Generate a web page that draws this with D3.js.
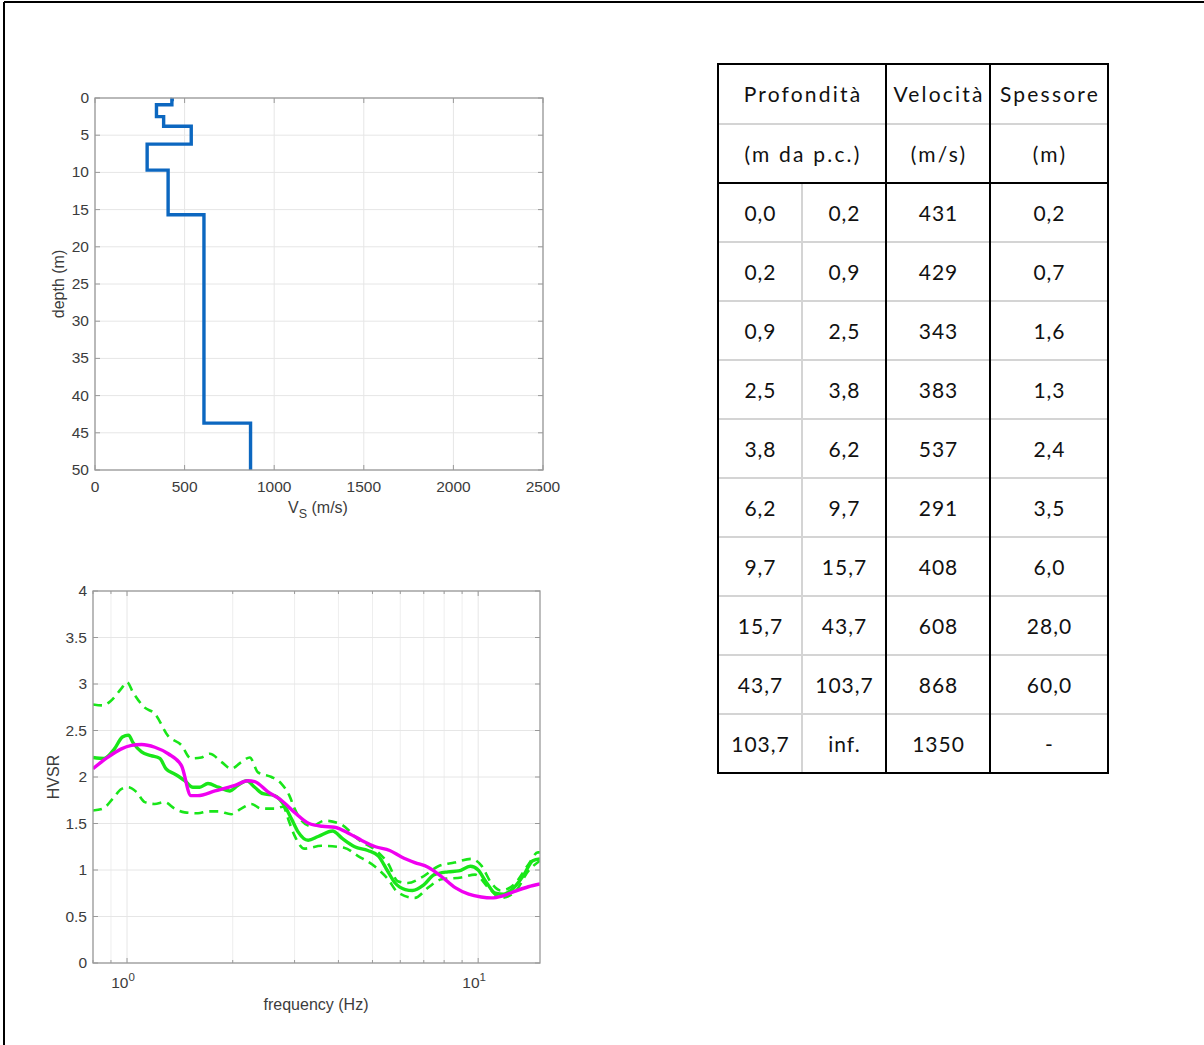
<!DOCTYPE html>
<html>
<head>
<meta charset="utf-8">
<script src="https://cdn.jsdelivr.net/npm/d3@7"></script>
<style>
  html, body { margin: 0; padding: 0; background: #fff; }
  svg { display: block; }
  .tick-label { font-family: "Liberation Sans", Arial, sans-serif; font-size: 15.5px; fill: #3c3c3c; }
  .axis-title { font-family: "Liberation Sans", Arial, sans-serif; font-size: 16px; fill: #3c3c3c; }
  .tbl { font-family: Lato, "Open Sans", sans-serif; font-size: 21px; fill: #111; letter-spacing: 1px; }
  .tbl-head { letter-spacing: 2.2px; }
</style>
</head>
<body>
<svg id="fig" width="1204" height="1045"></svg>
<script>
// ---- Layered Vs model (depth in m, velocity in m/s) ----
const layerTop    = [0.0, 0.2, 0.9, 2.5, 3.8, 6.2, 9.7, 15.7, 43.7, 103.7];
const layerBottom = [0.2, 0.9, 2.5, 3.8, 6.2, 9.7, 15.7, 43.7, 103.7, Infinity];
const layerVs     = [431, 429, 343, 383, 537, 291, 408, 608, 868, 1350];

// ---- Profile axes ----
const vsTicks    = [0, 500, 1000, 1500, 2000, 2500];
const depthTicks = [0, 5, 10, 15, 20, 25, 30, 35, 40, 45, 50];

// ---- HVSR curves: [frequency Hz, H/V] ----
const hvsrMean = [[0.8,2.21],[0.86,2.20],[0.92,2.30],[0.97,2.43],[1.01,2.45],[1.04,2.37],[1.10,2.27],[1.17,2.23],[1.24,2.20],[1.29,2.09],[1.37,2.03],[1.46,1.96],[1.54,1.89],[1.61,1.89],[1.70,1.93],[1.82,1.89],[1.96,1.85],[2.07,1.91],[2.19,1.96],[2.31,1.89],[2.44,1.82],[2.63,1.80],[2.81,1.69],[2.94,1.55],[3.07,1.41],[3.28,1.32],[3.5,1.36],[3.85,1.42],[4.1,1.34],[4.45,1.25],[4.85,1.21],[5.2,1.15],[5.5,1.00],[5.8,0.86],[6.2,0.79],[6.5,0.78],[7.0,0.84],[7.5,0.95],[8.2,0.98],[8.8,0.99],[9.5,1.04],[10.0,1.00],[10.5,0.88],[11.2,0.75],[11.8,0.74],[12.4,0.78],[13.5,0.95],[14.3,1.10],[15.0,1.12]];
const hvsrUpper = [[0.8,2.78],[0.854,2.77],[0.90,2.82],[0.963,2.95],[1.0,3.02],[1.04,2.91],[1.12,2.75],[1.2,2.68],[1.31,2.44],[1.43,2.34],[1.52,2.20],[1.628,2.21],[1.72,2.25],[1.86,2.16],[1.98,2.09],[2.115,2.16],[2.237,2.21],[2.36,2.05],[2.58,2.00],[2.75,1.93],[2.9,1.80],[3.0,1.66],[3.14,1.53],[3.35,1.47],[3.65,1.53],[4.07,1.49],[4.55,1.33],[5.19,1.19],[5.54,1.07],[5.9,0.88],[6.3,0.86],[6.9,0.92],[7.7,1.04],[8.56,1.08],[9.56,1.12],[10.2,1.05],[10.9,0.86],[11.6,0.78],[12.7,0.85],[13.9,1.06],[14.8,1.19],[15,1.19]];
const hvsrLower = [[0.8,1.64],[0.854,1.66],[0.912,1.77],[0.963,1.87],[1.007,1.89],[1.063,1.84],[1.123,1.73],[1.199,1.71],[1.28,1.73],[1.367,1.66],[1.459,1.62],[1.593,1.61],[1.702,1.63],[1.817,1.63],[1.98,1.60],[2.115,1.66],[2.26,1.71],[2.41,1.66],[2.635,1.66],[2.78,1.68],[2.9,1.51],[3.0,1.37],[3.2,1.23],[3.58,1.26],[4.15,1.24],[4.55,1.15],[5.07,1.04],[5.54,0.90],[5.9,0.76],[6.6,0.70],[7.2,0.81],[7.86,0.90],[8.95,0.92],[9.8,0.95],[10.7,0.81],[11.6,0.70],[12.7,0.76],[13.9,0.99],[15,1.10]];
const hvsrModel = [[0.8,2.09],[0.88,2.21],[0.96,2.30],[1.03,2.34],[1.10,2.35],[1.20,2.32],[1.31,2.25],[1.43,2.12],[1.52,1.80],[1.59,1.80],[1.78,1.85],[2.03,1.91],[2.21,1.96],[2.31,1.95],[2.52,1.84],[2.75,1.75],[3.0,1.62],[3.3,1.50],[3.6,1.47],[3.9,1.46],[4.3,1.39],[4.65,1.32],[5.1,1.25],[5.6,1.21],[6.05,1.14],[6.6,1.08],[7.2,1.03],[7.86,0.93],[8.6,0.81],[9.4,0.74],[10.2,0.71],[10.9,0.70],[11.7,0.72],[12.7,0.77],[13.9,0.82],[15,0.85]];

// ---- HVSR axes ----
const freqDomain   = [0.8, 15];
const freqMajor    = [1, 10];
const freqMinor    = [0.8, 0.9, 2, 3, 4, 5, 6, 7, 8, 9];
const hvsrTicks    = [0, 0.5, 1, 1.5, 2, 2.5, 3, 3.5, 4];

// ---- Table headings ----
const headRow1 = ["Profondità", "Velocità", "Spessore"];
const headRow2 = ["(m da p.c.)", "(m/s)", "(m)"];

const svg = d3.select("#fig");
const AXIS = "#9a9a9a", GRID = "#e6e6e6";

// page frame (top and left rules)
svg.append("line").attr("x1", 4).attr("x2", 1204).attr("y1", 2).attr("y2", 2).attr("stroke", "#000").attr("stroke-width", 2);
svg.append("line").attr("x1", 4).attr("x2", 4).attr("y1", 2).attr("y2", 1045).attr("stroke", "#000").attr("stroke-width", 2);

function frame(g, x0, x1, y0, y1) {
  g.append("rect").attr("x", x0).attr("y", y0).attr("width", x1 - x0).attr("height", y1 - y0)
    .attr("fill", "none").attr("stroke", AXIS).attr("stroke-width", 1.3);
}

// ================= Vs profile =================
{
  const x = d3.scaleLinear().domain([0, 2500]).range([95, 543]);
  const y = d3.scaleLinear().domain([0, 50]).range([98, 470]);
  const g = svg.append("g");
  const [x0, x1] = x.range(), [y0, y1] = y.range();

  g.append("g").selectAll("line").data(vsTicks).join("line")
    .attr("x1", d => x(d)).attr("x2", d => x(d)).attr("y1", y0).attr("y2", y1)
    .attr("stroke", GRID).attr("stroke-width", 1);
  g.append("g").selectAll("line").data(depthTicks).join("line")
    .attr("x1", x0).attr("x2", x1).attr("y1", d => y(d)).attr("y2", d => y(d))
    .attr("stroke", GRID).attr("stroke-width", 1);

  // inward ticks on all four sides
  const tl = 5;
  vsTicks.forEach(d => {
    g.append("line").attr("x1", x(d)).attr("x2", x(d)).attr("y1", y1).attr("y2", y1 - tl).attr("stroke", AXIS);
    g.append("line").attr("x1", x(d)).attr("x2", x(d)).attr("y1", y0).attr("y2", y0 + tl).attr("stroke", AXIS);
  });
  depthTicks.forEach(d => {
    g.append("line").attr("x1", x0).attr("x2", x0 + tl).attr("y1", y(d)).attr("y2", y(d)).attr("stroke", AXIS);
    g.append("line").attr("x1", x1).attr("x2", x1 - tl).attr("y1", y(d)).attr("y2", y(d)).attr("stroke", AXIS);
  });

  g.append("clipPath").attr("id", "clipVs").append("rect")
    .attr("x", x0).attr("y", y0 - 2).attr("width", x1 - x0).attr("height", y1 - y0 + 2);

  const pts = [];
  layerVs.forEach((v, i) => {
    pts.push([v, layerTop[i]]);
    pts.push([v, Math.min(layerBottom[i], 200)]);
  });
  g.append("path").datum(pts)
    .attr("clip-path", "url(#clipVs)")
    .attr("d", d3.line().x(d => x(d[0])).y(d => y(d[1])))
    .attr("fill", "none").attr("stroke", "#0c67c0").attr("stroke-width", 3.4)
    .attr("stroke-linejoin", "miter");

  frame(g, x0, x1, y0, y1);

  g.append("g").selectAll("text").data(vsTicks).join("text")
    .attr("class", "tick-label").attr("x", d => x(d)).attr("y", y1 + 22)
    .attr("text-anchor", "middle").text(d => d);
  g.append("g").selectAll("text").data(depthTicks).join("text")
    .attr("class", "tick-label").attr("x", x0 - 6).attr("y", d => y(d) + 5)
    .attr("text-anchor", "end").text(d => d);

  const xt = g.append("text").attr("class", "axis-title").attr("x", 318).attr("y", 513).attr("text-anchor", "middle");
  xt.append("tspan").text("V");
  xt.append("tspan").attr("dy", 5).attr("font-size", 12.5).text("S");
  xt.append("tspan").attr("dy", -5).text(" (m/s)");
  g.append("text").attr("class", "axis-title").attr("transform", "translate(64,284) rotate(-90)")
    .attr("text-anchor", "middle").text("depth (m)");
}

// ================= HVSR =================
{
  const x = d3.scaleLog().domain(freqDomain).range([93, 540]);
  const y = d3.scaleLinear().domain([0, 4]).range([963, 591]);
  const g = svg.append("g");
  const [x0, x1] = x.range(), [y1, y0] = y.range();

  g.append("g").selectAll("line").data(freqMinor.concat(freqMajor)).join("line")
    .attr("x1", d => x(d)).attr("x2", d => x(d)).attr("y1", y0).attr("y2", y1)
    .attr("stroke", d => freqMajor.includes(d) ? GRID : "#eeeeee").attr("stroke-width", 1);
  g.append("g").selectAll("line").data(hvsrTicks).join("line")
    .attr("x1", x0).attr("x2", x1).attr("y1", d => y(d)).attr("y2", d => y(d))
    .attr("stroke", GRID).attr("stroke-width", 1);

  const tl = 5;
  freqMajor.forEach(d => {
    g.append("line").attr("x1", x(d)).attr("x2", x(d)).attr("y1", y1).attr("y2", y1 - tl).attr("stroke", AXIS);
    g.append("line").attr("x1", x(d)).attr("x2", x(d)).attr("y1", y0).attr("y2", y0 + tl).attr("stroke", AXIS);
  });
  freqMinor.forEach(d => {
    g.append("line").attr("x1", x(d)).attr("x2", x(d)).attr("y1", y1).attr("y2", y1 - 3).attr("stroke", AXIS);
    g.append("line").attr("x1", x(d)).attr("x2", x(d)).attr("y1", y0).attr("y2", y0 + 3).attr("stroke", AXIS);
  });
  hvsrTicks.forEach(d => {
    g.append("line").attr("x1", x0).attr("x2", x0 + tl).attr("y1", y(d)).attr("y2", y(d)).attr("stroke", AXIS);
    g.append("line").attr("x1", x1).attr("x2", x1 - tl).attr("y1", y(d)).attr("y2", y(d)).attr("stroke", AXIS);
  });

  g.append("clipPath").attr("id", "clipHv").append("rect")
    .attr("x", x0).attr("y", y0).attr("width", x1 - x0).attr("height", y1 - y0);

  const line = d3.line().x(d => x(d[0])).y(d => y(d[1])).curve(d3.curveMonotoneX);
  const GREEN = "#19e619", MAGENTA = "#f000f0";
  const plot = g.append("g").attr("clip-path", "url(#clipHv)");
  [hvsrUpper, hvsrLower].forEach(s => {
    plot.append("path").datum(s).attr("d", line)
      .attr("fill", "none").attr("stroke", GREEN).attr("stroke-width", 2.6)
      .attr("stroke-dasharray", "9,6");
  });
  plot.append("path").datum(hvsrMean).attr("d", line)
    .attr("fill", "none").attr("stroke", GREEN).attr("stroke-width", 3.4);
  plot.append("path").datum(hvsrModel).attr("d", line)
    .attr("fill", "none").attr("stroke", MAGENTA).attr("stroke-width", 3.4);

  frame(g, x0, x1, y0, y1);

  g.append("g").selectAll("text").data(hvsrTicks).join("text")
    .attr("class", "tick-label").attr("x", x0 - 6).attr("y", d => y(d) + 5)
    .attr("text-anchor", "end").text(d => d);
  freqMajor.forEach(d => {
    const t = g.append("text").attr("class", "tick-label").attr("x", x(d) - 4).attr("y", y1 + 25)
      .attr("text-anchor", "middle");
    t.append("tspan").text("10");
    t.append("tspan").attr("dy", -7).attr("font-size", 11.5).text(Math.round(Math.log10(d)));
  });
  g.append("text").attr("class", "axis-title").attr("x", 316).attr("y", 1010)
    .attr("text-anchor", "middle").text("frequency (Hz)");
  g.append("text").attr("class", "axis-title").attr("transform", "translate(59,777) rotate(-90)")
    .attr("text-anchor", "middle").text("HVSR");
}

// ================= Layer table =================
{
  const colX = [718, 802, 886, 990, 1108];
  const rowY = [64, 124, 183];
  layerVs.forEach((_, i) => rowY.push(183 + (i + 1) * 59));
  const g = svg.append("g");
  const fmt = v => v.toFixed(1).replace(".", ",");

  const rows = layerVs.map((v, i) => [
    fmt(layerTop[i]),
    isFinite(layerBottom[i]) ? fmt(layerBottom[i]) : "inf.",
    String(v),
    isFinite(layerBottom[i]) ? fmt(layerBottom[i] - layerTop[i]) : "-"
  ]);

  const LIGHT = "#d4d4d4";
  // light inner rules
  rowY.slice(1).forEach((ry, k) => {
    if (ry === 183 || k === rowY.length - 2) return;
    g.append("line").attr("x1", colX[0]).attr("x2", colX[4]).attr("y1", ry).attr("y2", ry)
      .attr("stroke", LIGHT).attr("stroke-width", 2);
  });
  g.append("line").attr("x1", colX[1]).attr("x2", colX[1]).attr("y1", 183).attr("y2", rowY[rowY.length - 1])
    .attr("stroke", LIGHT).attr("stroke-width", 2);

  // dark rules
  const last = rowY[rowY.length - 1];
  [colX[2], colX[3]].forEach(cx => g.append("line").attr("x1", cx).attr("x2", cx)
    .attr("y1", rowY[0]).attr("y2", last).attr("stroke", "#000").attr("stroke-width", 2));
  g.append("line").attr("x1", colX[0]).attr("x2", colX[4]).attr("y1", 183).attr("y2", 183)
    .attr("stroke", "#000").attr("stroke-width", 2);
  g.append("rect").attr("x", colX[0]).attr("y", rowY[0]).attr("width", colX[4] - colX[0])
    .attr("height", last - rowY[0]).attr("fill", "none").attr("stroke", "#000").attr("stroke-width", 2);

  const headCx = [(colX[0] + colX[2]) / 2, (colX[2] + colX[3]) / 2, (colX[3] + colX[4]) / 2];
  [headRow1, headRow2].forEach((row, r) => {
    const cy = (rowY[r] + rowY[r + 1]) / 2;
    row.forEach((t, c) => g.append("text").attr("class", "tbl tbl-head").attr("x", headCx[c] + 1).attr("y", cy + 8)
      .attr("text-anchor", "middle").text(t));
  });
  const cellCx = [0, 1, 2, 3].map(c => (colX[c] + colX[c + 1]) / 2);
  rows.forEach((row, r) => {
    const cy = (rowY[r + 2] + rowY[r + 3]) / 2;
    row.forEach((t, c) => g.append("text").attr("class", "tbl").attr("x", cellCx[c] + 0.5).attr("y", cy + 8)
      .attr("text-anchor", "middle").text(t));
  });
}
</script>
</body>
</html>
